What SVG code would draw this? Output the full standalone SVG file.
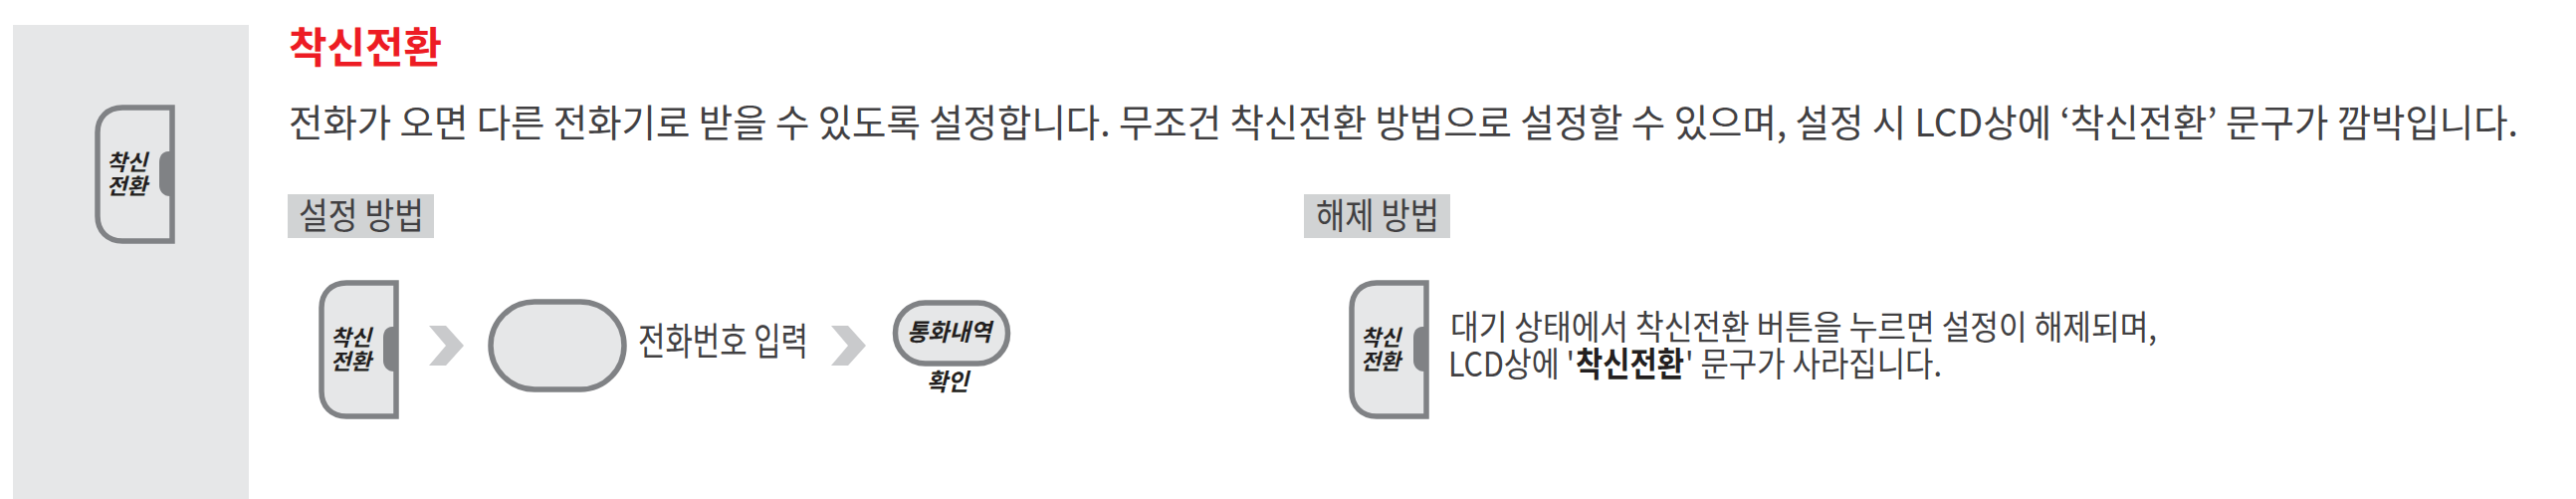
<svg xmlns="http://www.w3.org/2000/svg" width="2588" height="501" viewBox="0 0 2588 501">
<style>
text{font-family:"Noto Sans CJK KR","Noto Sans",sans-serif;fill:#414042}
.b{fill:#e6e7e8;stroke:#808285;stroke-width:5.5}
.n{fill:#808285}
.k{font-weight:700;font-style:italic;fill:#231f20;font-size:22px}
.h{font-size:36px}
.c{fill:#c9cacc}
</style>
<defs>
<g id="btn">
<path class="b" d="M78 3V137H28C13 137 3 127 3 112V28C3 13 13 3 28 3Z"/>
<path class="n" d="M76 47H74C68 47 65 52 65 58V81C65 87 69 92 76 92Z"/>
</g>
<path id="chev" class="c" d="M0 0H17L35 20L17 40H0L17 20Z"/>
</defs>
<rect x="13" y="25" width="237" height="476" fill="#e6e7e8"/>
<g id="side-button">
<use href="#btn" x="95" y="105"/>
<text class="k"><tspan x="107" y="171" textLength="41" lengthAdjust="spacingAndGlyphs">착신</tspan><tspan x="107" y="195" textLength="41" lengthAdjust="spacingAndGlyphs">전환</tspan></text>
</g>
<g id="heading">
<text x="290" y="63" font-size="42" font-weight="700" style="fill:#ed1c24" textLength="154" lengthAdjust="spacingAndGlyphs">착신전환</text>
<text x="290" y="137" font-size="38" textLength="2240" lengthAdjust="spacingAndGlyphs">전화가 오면 다른 전화기로 받을 수 있도록 설정합니다. 무조건 착신전환 방법으로 설정할 수 있으며, 설정 시 LCD상에 ‘착신전환’ 문구가 깜박입니다.</text>
</g>
<g id="setup-label">
<rect x="289" y="195" width="147" height="44" fill="#d1d3d4"/>
<text class="h" x="300" y="230" textLength="126" lengthAdjust="spacingAndGlyphs">설정 방법</text>
</g>
<g id="setup-button">
<use href="#btn" x="320" y="281"/>
<text class="k"><tspan x="332" y="347" textLength="41" lengthAdjust="spacingAndGlyphs">착신</tspan><tspan x="332" y="371" textLength="41" lengthAdjust="spacingAndGlyphs">전환</tspan></text>
</g>
<g id="connectors">
<use href="#chev" x="431" y="327"/>
<use href="#chev" x="835" y="327"/>
</g>
<g id="number-key">
<rect x="493" y="303" width="134" height="88" rx="44" class="b"/>
<text x="641" y="356" font-size="38" textLength="171" lengthAdjust="spacingAndGlyphs">전화번호 입력</text>
</g>
<g id="call-log-key">
<rect x="899.5" y="304" width="113" height="61" rx="30" class="b"/>
<text class="k" style="font-size:24px"><tspan x="911" y="342" textLength="85" lengthAdjust="spacingAndGlyphs">통화내역</tspan><tspan x="931" y="392" textLength="42" lengthAdjust="spacingAndGlyphs">확인</tspan></text>
</g>
<g id="release-label">
<rect x="1310" y="195" width="147" height="44" fill="#d1d3d4"/>
<text class="h" x="1322" y="230" textLength="124" lengthAdjust="spacingAndGlyphs">해제 방법</text>
</g>
<g id="release-button">
<use href="#btn" x="1355" y="281"/>
<text class="k"><tspan x="1367" y="347" textLength="40" lengthAdjust="spacingAndGlyphs">착신</tspan><tspan x="1367" y="371" textLength="40" lengthAdjust="spacingAndGlyphs">전환</tspan></text>
</g>
<g id="release-text" font-size="34">
<text><tspan x="1457" y="341" textLength="710" lengthAdjust="spacingAndGlyphs">대기 상태에서 착신전환 버튼을 누르면 설정이 해제되며,</tspan><tspan x="1455" y="378" textLength="127" lengthAdjust="spacingAndGlyphs">LCD상에 '</tspan><tspan x="1583" y="378" font-weight="700" style="fill:#231f20" textLength="109" lengthAdjust="spacingAndGlyphs">착신전환</tspan><tspan x="1693" y="378" textLength="258" lengthAdjust="spacingAndGlyphs">' 문구가 사라집니다.</tspan></text>
</g>
</svg>
